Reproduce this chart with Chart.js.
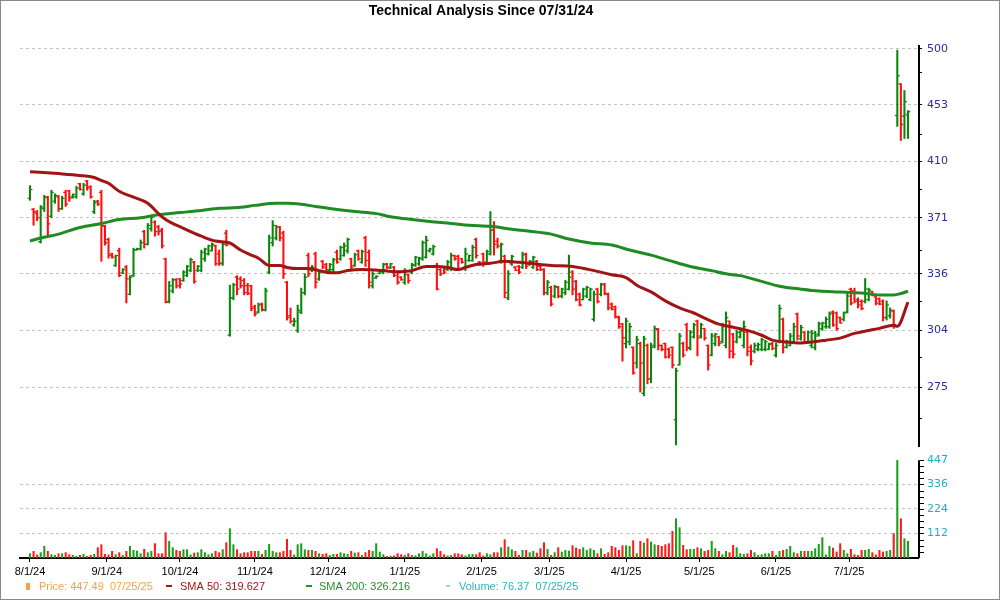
<!DOCTYPE html>
<html><head><meta charset="utf-8">
<script src="https://cdn.jsdelivr.net/npm/chart.js@4/dist/chart.umd.min.js"></script>
<style>html,body{margin:0;padding:0;background:#fff;}#wrap{width:1000px;height:600px;position:relative;}</style>
</head><body><div id="wrap"><canvas id="c" width="1000" height="600"></canvas></div>
<script>
// ---- DATA (one entry per trading day, 08/01/24 .. 07/25/25) ----
const openP = [
384,376.5,374,355.5,377,384.5,372,382,385,377,
388,389,385,385,394,387,396,392,375,382,
388,365.5,357,348,341,350,336.5,340,324,335,
350.5,351,362,354,364,368,365,363,345,320,
326,332.5,333,332,335,338,343,338,338,345,
348,350,353,348,342,361,301.5,322,334,333,
332,329,329,317,314,318.5,315,337,355,358,
365,361,331,312,307,304,314,325,347,338,
348,333,343.5,341.5,338,338.5,349,345,347,350,
345,341,350,343,358,349,329,333.5,336.2,337,
342,339.5,340,337,334,331,335.5,337,341,342,
345,346,350,348,341,338.5,340,338.5,339,347,
346.5,345,339,344,344,357,343,348,343,348,
363,356,344,346.5,322,342,340,340.5,340,348,
341.5,340,343.5,340.5,338.5,325,328,323,328,323,
325,327,337,331.5,324,321,323,321,310,327,
324,330,324,318.5,317,311,307.5,297,298,295,
287,297,272,296,279,296,304.5,296,297,294,
295,259.6,286,297,307,294.5,300.5,309,301,305,
296,291,297,300.5,298,296,309,302,298,300.5,
296,303,295,293,294,294,294,294,297,291,
298,310,295,296,298,313,299.5,303,298,296,
295,302,305,306,306,314,313.5,311,310,314,
327,326,321,320,320,321,325.5,322.5,321.5,320,
311,312,314.5,444.5,470,444,445];
const highP = [
392.6,377.2,375.8,379.1,386,385.4,389.5,387,386,385.4,
389.5,389.5,387,392.2,394.3,394.3,396.3,392.6,382.6,382.6,
389.5,366.1,357.9,348.5,347.3,351.6,339.1,341,334.9,351.6,
351.6,356.7,362.9,367.3,372.4,369.1,366.1,364.1,345.4,331.5,
333.2,333.2,333.2,337.9,341,345.4,343.5,341,350.4,351.6,
353.5,354.8,353.5,350.4,355.4,362.9,329.3,330.4,334.9,334.3,
333.2,330.4,329.3,317.9,319.1,319.1,327.6,359.8,369.1,366.1,
365.4,362.3,331.5,316.3,310.7,317.9,327.6,336,348.5,341,
349.1,337.9,344.1,342.3,342.3,345.4,350.4,352.9,354.8,357.9,
345.4,348.5,350.4,350.4,359.1,350.4,337.2,334.9,337.9,342.3,
342.3,342.3,340.4,337.2,334.3,339.1,336,342.3,346.6,346,
356.1,359.1,351.6,353.5,342.3,339.1,340.4,344.1,348.5,347.3,
347.3,345.4,351.6,347.3,353.5,357.9,343.5,348.5,350.4,375.1,
368.5,357.9,354.8,347.3,337.9,347.3,340.4,341,349.1,348.5,
344.1,346.6,344.1,341,339.1,332.1,328.7,329.3,328.7,327.6,
332.1,347.3,337.9,332.1,324.8,327.6,328.7,327.6,325.9,327.6,
330.4,330.4,324.8,319.1,317.4,311.8,307.9,310.7,307.9,295.3,
300.9,297.8,300.9,296.8,297.3,306.4,305.1,296.3,297.3,294.7,
295.3,284.4,302.4,297.8,307.9,304,307.9,309.6,307.9,305.1,
296.3,302.4,302.4,300.9,307.9,314.1,309.1,302.4,304,304,
309.1,304,296.3,297.3,297.3,299.9,298.8,297.3,297.8,297.3,
318,310.7,298.8,302.4,307.9,313.5,306.8,303.5,303.5,304,
303.5,308.5,308.5,311.3,314.1,314.7,314.1,311.3,314.1,324.8,
327.6,327.6,322,320.9,333.2,327.6,325.9,323.1,322,320.9,
320.3,316.3,315.2,499,470.3,464.6,448.4];
const lowP = [
382.6,366.1,369.1,354.8,375.1,359.8,371,380.6,375.1,376.5,
378.5,381.9,384,384,389.5,386,389.5,384,373.7,379.1,
343.5,353.5,345.4,345.4,340.4,334.3,336,319.1,323.7,334.3,
350.4,350.4,351.6,353.5,362.3,359.1,359.8,351.6,319.1,319.1,
324.8,327.6,327.6,331.5,334.3,337.2,330.4,337.2,337.2,343.5,
347.3,349.8,341,341,341,352.9,300.9,320.9,323.7,327.6,
323.7,323.7,314.7,311.8,313.5,314.6,314.6,336,352.9,356.7,
356.1,333.2,309.6,307.9,306.2,302.9,313.1,323.7,334.3,337.2,
327.6,332.1,339.1,337.2,337.2,337.2,342.3,344.1,346.6,348.5,
339.1,340.4,344.1,342.3,340.4,327.6,327.6,333.2,336,336,
339.1,339.1,334.3,329.8,332.1,329.8,330.4,336,340.4,341,
344.1,345.4,349.1,347.3,326.5,334.9,336,337.9,337.9,344.1,
337.9,342.3,337.9,343.5,343.5,345.4,341,340.4,342.3,347.3,
347.3,351.6,342.3,322,320.9,341,337.9,336,339.1,339.1,
341,339.1,337.9,337.9,323.7,323.7,317.4,322,322,322,
323.7,326.5,323.7,320.3,317.4,320.9,322,320.3,309,319.1,
323.1,323.7,315.2,315.2,310.7,305.1,287.9,294.7,296.3,281.3,
284.4,272.6,270.8,276.6,277.1,294.7,293.7,293.2,289.5,289.5,
284.4,248.3,285.9,290,293.2,293.7,299.9,290.6,299.9,298.8,
283.4,290.6,295.8,295.8,297.3,294.7,289.5,289.5,297.3,299.9,
294.7,290.6,285.9,292.1,293.2,293.2,293.2,293.7,293.7,290,
297.3,292.1,294.7,295.8,297.3,298.8,298.8,297.3,297.3,294.7,
293.7,300.9,304,305.1,305.1,306.2,304,307.9,309.1,313.5,
318,319.1,316.3,315.2,319.1,320.3,323.1,318,318,309.1,
309.6,310.7,305.1,436,425.3,426.8,426.8];
const closeP = [
390,375,371,378,385,367,388,386,377,384,
380,384,386.5,391,390,393,391,385,381,380,
366,355,347,346,347,335,338.5,333,334,350.5,
351.2,355,354,366,371.5,362,362,353,319.5,329,
332.5,329,330,337,340.5,344.5,331.5,340.5,349,351,
353,354,342,342.5,354,353.5,322,329.5,327,329,
325,324.5,316,313,318,315.5,326,358,366,365,
358,336,311,309,309,315,325,334,336,340,
331,337,340,338.5,341.5,344.5,343,352,353,357,
340,347.5,345,349.5,344,331,336,334.5,337.5,341.5,
340,342,335,331,332.5,338,332,341.5,346,345.5,
355,356.5,351,352.5,327,336,337,343,347,345,
339,343,348,347,352,347,341.5,342,349.5,363,
354,353,354,325,336,346.5,338,337,347.5,340.5,
343.5,346,338.5,338.5,325,331,318.5,328.5,323,327,
331,334,327,321,318,327,328,327,324,320,
329.5,324.5,316.5,315.5,311.5,306,300,309,306,282,
299,287,299.5,279,295,305,296,294,290,291,
286,283,301,291,295,303,307,300,307,300,
286,301,302,297,306,311,293,291.5,303,303.5,
306,293,288,296,296.5,299,298,296.5,294.5,296,
316,295,298,301,306,301,305.5,298,303,302.5,
301,307.5,308,310,313,307,305,308,313.5,323,
319,320,318,316,327,326.5,323.5,319,318.5,311,
318,315,307,476.9,437.5,455.5,447.49];
const volume = [
19.8,30.5,14,24.4,53.3,30.5,15.2,12,19.8,19.8,
24.4,15.2,12.2,7.6,12.2,16.8,7.6,12.2,16.8,47.2,
60.9,16.8,14,30.5,15.2,24.4,12,30.5,53.3,35,
32,19.8,39.6,24.4,30.5,65.5,19.8,19.8,115.7,76.2,
47.2,35,30.5,38.1,38.1,14,22.8,24.4,38.1,24.4,
15,19.8,30.5,24.4,38.1,70,134,60.9,38.1,19.8,
24.4,24.4,30.5,30.5,30.5,16.8,35,62.4,30.5,24.4,
24.4,30.5,85.3,35,14,60.9,65.5,38.1,35,35,
30.5,19.8,16.8,19.8,12,16.8,16.8,24.4,19.8,16.8,
30.5,22.8,24.4,12,24.4,35,30.5,65.5,27.4,15.2,
7.6,9.1,10,19.8,15.2,12,19.8,12.2,10,19.8,
30.5,19.8,10,19.8,42.6,30.5,15.2,10,12,19.8,
19.8,15.2,10,15.2,16.8,15.2,24.4,10,19.8,15.2,
24.4,24.4,47.2,83.8,50.3,38.1,30.5,12,35,35,
24.4,30.5,22.8,42.6,70,39.6,12,24.4,47.2,27.4,
35,32,56.4,45.7,39.6,47.2,35,42.6,35,19.8,
42.6,16.8,24.4,53.3,47.2,35,56.4,56.4,53.3,79.2,
20,76.2,68.5,88.3,73.1,60.9,57.9,53.3,60.9,65.5,
121.8,179.7,138.6,57.9,38.1,39.6,39.6,47.2,42.6,30.5,
35,76.2,42.6,30.5,15.2,30.5,24.4,57.9,47.2,19.8,
16.8,19.8,35,24.4,12,15.2,19.8,19.8,30.5,12,
30.5,35,39.6,53.3,24.4,19.8,30.5,30.5,30.5,30.5,
42.6,62.4,93,14,53.3,45.7,27.4,65.5,35,19.8,
39.6,15.2,12,35,35,39.6,24.4,14,35,27.4,
30.5,35,111.7,446,179.7,88.3,76.37];
// moving averages: [trading-day index, value]
const sma50 = [[0,402.5],[8,401.1],[14,399.8],[18,398.4],[20,396.3],[22,394.3],[25,388.8],[29,384.7],[33,380.6],[36,373.7],[38,369.8],[43,364.1],[48,359.1],[52,356],[56,354.8],[59,350.4],[62,347.3],[64,345.4],[67,341],[70,341],[72,339.8],[75,339.1],[78,339.1],[81,337.9],[84,336.6],[86,336.6],[89,337.9],[93,338.5],[99,337.9],[103,337.2],[107,337.9],[111,340.4],[114,340.4],[117,339.8],[120,338.5],[122,339.8],[125,341.6],[129,342.3],[133,343.5],[137,342.9],[140,342.3],[146,341],[152,340.4],[158,337.9],[163,335.4],[167,333.8],[170,329.3],[174,325.4],[178,320.3],[182,316.3],[186,313.5],[189,310.7],[193,307.4],[197,305.7],[201,304],[205,301.4],[208,298.8],[212,297.8],[216,297.3],[219,297.8],[223,298.8],[227,299.9],[231,302.4],[235,304],[238,305.1],[242,306.8],[243,306.2],[246,319.6]];
const sma200 = [[0,356],[3,357.9],[8,360.4],[14,364.7],[20,367.3],[25,369.8],[31,371],[36,373],[42,374.4],[48,375.8],[53,377.2],[59,377.9],[63,379.2],[69,380.6],[72,380.6],[76,379.9],[80,378.5],[86,376.5],[91,375.1],[97,373.7],[101,371.7],[107,369.8],[112,368.5],[118,367.3],[123,366.1],[129,365.4],[135,363.5],[140,362.3],[146,360.4],[151,357.3],[157,354.8],[163,353.5],[168,350.4],[174,347.3],[179,344.1],[185,340.4],[191,337.9],[195,336],[199,334.9],[205,331.5],[210,328.7],[216,327],[221,325.9],[227,325.4],[233,324.8],[238,323.7],[242,323.7],[244,324.5],[246,325.8]];
const monthTickIdx = [0,21.5,42,63,83.5,105,126.5,145.5,167,187.5,209,229.5];
const monthLabels = ['8/1/24','9/1/24','10/1/24','11/1/24','12/1/24','1/1/25','2/1/25','3/1/25','4/1/25','5/1/25','6/1/25','7/1/25'];
const priceTicks = [275,304,336,371,410,453,500];
const priceMinorTicks = [260,290,320,350,390,430,480];
const volTicks = [112,224,336,447];
const volMinorStep = 28;
const titleText = 'Technical Analysis Since 07/31/24';
const lastDate = '07/25/25';
const sma50Last = '319.627';
const sma200Last = '326.216';

// ---- CHART ----
const GREEN = '#0a850a', RED = '#ff0e0e';
const VGREEN = '#1c9e1c', VRED = '#ff1a1a';
const up = i => closeP[i] >= openP[i];
const N = closeP.length;
const xMin = -2.8, xMax = N - 1 + 2.8;

const decor = {
  id: 'decor',
  beforeDraw(chart) {
    const c = chart.ctx; c.save(); c.fillStyle = '#fff'; c.fillRect(0, 0, chart.width, chart.height); c.restore();
  },
  afterDraw(chart) {
    const c = chart.ctx, a = chart.chartArea, ys = chart.scales.y, yv = chart.scales.yv;
    c.save();
    // title
    c.fillStyle = '#000'; c.font = 'bold 14px "Liberation Sans", Arial, sans-serif';
    c.textAlign = 'center'; c.textBaseline = 'middle';
    c.fillText(titleText, 481, 11);
    // right axis lines
    c.strokeStyle = '#000'; c.lineWidth = 2;
    c.beginPath(); c.moveTo(a.right + 1, a.top); c.lineTo(a.right + 1, ys.getPixelForValue(247.4)); c.stroke();
    c.beginPath(); c.moveTo(a.right + 1, yv.getPixelForValue(volTicks[volTicks.length - 1])); c.lineTo(a.right + 1, a.bottom); c.stroke();
    // volume ticks + labels
    c.lineWidth = 1;
    for (let v = volMinorStep; v <= 448; v += volMinorStep) {
      const py = Math.round(yv.getPixelForValue(v)) + 0.5;
      c.beginPath(); c.moveTo(a.right + 2, py); c.lineTo(a.right + 6, py); c.stroke();
    }
    c.fillStyle = '#22aec2'; c.font = '11px "DejaVu Sans", Verdana, sans-serif';
    c.textAlign = 'left'; c.textBaseline = 'middle';
    volTicks.forEach(v => c.fillText(String(v), a.right + 9, yv.getPixelForValue(v)));
    // legend
    const ly = 587;
    c.font = '11px "Liberation Sans", Arial, sans-serif';
    c.fillStyle = '#f4a34c'; c.fillRect(26, 583, 4, 7);
    c.fillText('Price: ' + closeP[N - 1].toFixed(2) + '  ' + lastDate, 39, ly);
    c.fillStyle = '#a51616'; c.fillRect(166, 585, 6, 2);
    c.fillText('SMA 50: ' + sma50Last, 180, ly);
    c.fillStyle = '#23902a'; c.fillRect(306, 585, 6, 2);
    c.fillText('SMA 200: ' + sma200Last, 319, ly);
    c.fillStyle = '#2bb3c4'; c.fillRect(446, 585.5, 4, 1);
    c.fillText('Volume: ' + volume[N - 1].toFixed(2) + '  ' + lastDate, 459, ly);
    // frame
    c.strokeStyle = '#8a8a8a'; c.lineWidth = 1; c.strokeRect(0.5, 0.5, chart.width - 1, chart.height - 1);
    c.restore();
  }
};

const allPriceTicks = priceTicks.concat(priceMinorTicks).sort((p, q) => p - q);

new Chart(document.getElementById('c'), {
  type: 'bar',
  data: {
    datasets: [
      { type: 'line', label: 'SMA 50', data: sma50.map(p => ({x: p[0], y: p[1]})), yAxisID: 'y',
        borderColor: '#a01414', borderWidth: 3, pointRadius: 0, cubicInterpolationMode: 'monotone', order: 0 },
      { type: 'line', label: 'SMA 200', data: sma200.map(p => ({x: p[0], y: p[1]})), yAxisID: 'y',
        borderColor: '#1e8c22', borderWidth: 3, pointRadius: 0, cubicInterpolationMode: 'monotone', order: 0 },
      { type: 'scatter', label: 'open', data: openP.map((o, i) => ({x: i - 0.33, y: o})), yAxisID: 'y',
        pointStyle: 'line', pointRadius: 1.2, pointBorderWidth: 1.3,
        pointBorderColor: ctx => up(ctx.dataIndex) ? GREEN : RED, order: 1 },
      { type: 'scatter', label: 'close', data: closeP.map((o, i) => ({x: i + 0.33, y: o})), yAxisID: 'y',
        pointStyle: 'line', pointRadius: 1.2, pointBorderWidth: 1.3,
        pointBorderColor: ctx => up(ctx.dataIndex) ? GREEN : RED, order: 1 },
      { type: 'bar', label: 'range', data: highP.map((h, i) => ({x: i, y: [lowP[i], h]})), yAxisID: 'y',
        barThickness: 1.4, grouped: false, borderWidth: 0,
        backgroundColor: ctx => up(ctx.dataIndex) ? GREEN : RED, order: 2 },
      { type: 'bar', label: 'Volume', data: volume.map((v, i) => ({x: i, y: v})), yAxisID: 'yv',
        barThickness: 1.4, grouped: false, borderWidth: 0,
        backgroundColor: ctx => up(ctx.dataIndex) ? VGREEN : VRED, order: 3 }
    ]
  },
  options: {
    responsive: false, animation: false, devicePixelRatio: 1, events: [],
    layout: { padding: { left: 20, top: 45, right: 0, bottom: 0 } },
    plugins: { legend: { display: false }, tooltip: { enabled: false }, title: { display: false } },
    scales: {
      x: {
        type: 'linear', min: xMin, max: xMax, offset: false,
        afterBuildTicks: s => { s.ticks = monthTickIdx.map(v => ({value: v})); },
        afterFit: s => { s.height = 42; },
        ticks: { autoSkip: false, maxRotation: 0, minRotation: 0, padding: 3, color: '#000',
                 font: { family: '"Liberation Sans", Arial, sans-serif', size: 11 },
                 callback: (v, i) => monthLabels[i] },
        grid: { display: true, drawOnChartArea: false, drawTicks: true, tickLength: 4, tickColor: '#000', tickWidth: 1, offset: false },
        border: { display: true, color: '#000', width: 2 }
      },
      y: {
        type: 'logarithmic', position: 'right', min: 203.3, max: 503.5,
        afterBuildTicks: s => { s.ticks = allPriceTicks.map(v => ({value: v})); },
        afterFit: s => { s.width = 82; },
        ticks: { autoSkip: false, padding: 5, color: '#2a2aa8',
                 font: { family: '"DejaVu Sans", Verdana, sans-serif', size: 11 },
                 callback: v => priceTicks.includes(v) ? String(v) : '' },
        grid: { color: ctx => (ctx.tick && priceTicks.includes(ctx.tick.value)) ? '#c2c2c2' : 'rgba(0,0,0,0)',
                lineWidth: 1, drawTicks: true, tickLength: 4, tickColor: '#000', tickWidth: 1 },
        border: { display: false, dash: [3, 3] }
      },
      yv: {
        type: 'linear', position: 'right', min: 0, max: 2344.7,
        afterBuildTicks: s => { s.ticks = volTicks.slice(0, 3).map(v => ({value: v})); },
        afterFit: s => { s.width = 0; },
        ticks: { display: false },
        grid: { color: '#c2c2c2', lineWidth: 1, drawTicks: false },
        border: { display: false, dash: [3, 3] }
      }
    }
  },
  plugins: [decor]
});
</script>
</body></html>
